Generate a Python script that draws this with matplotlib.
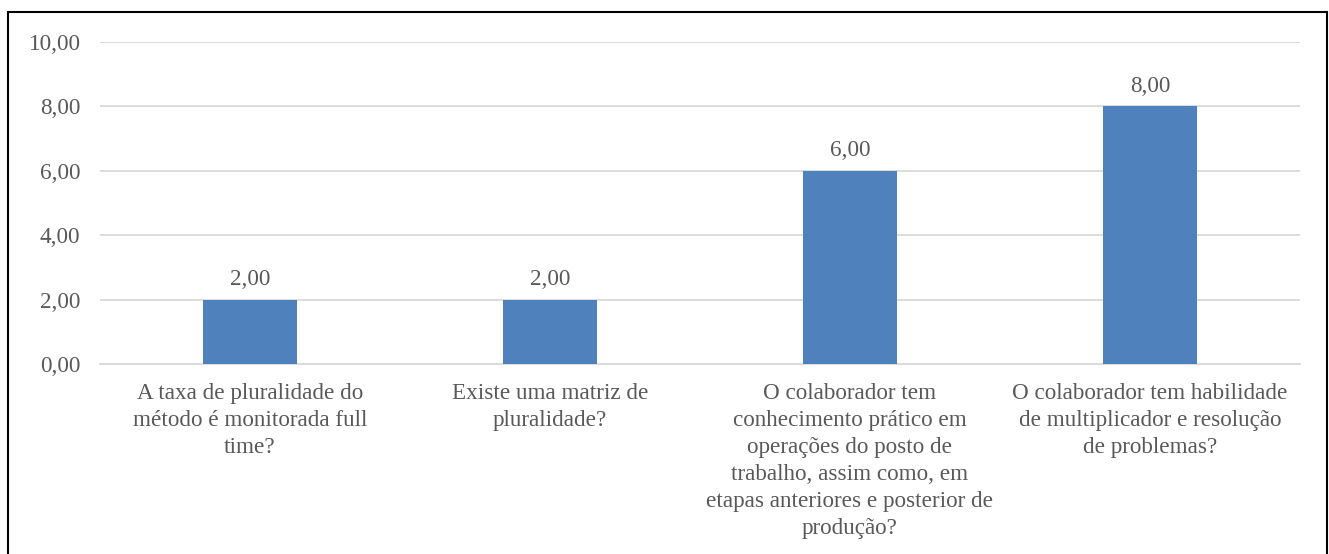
import matplotlib.pyplot as plt
from matplotlib.patches import Rectangle

categories = [
    "A taxa de pluralidade do\nmétodo é monitorada full\ntime?",
    "Existe uma matriz de\npluralidade?",
    "O colaborador tem\nconhecimento prático em\noperações do posto de\ntrabalho, assim como, em\netapas anteriores e posterior de\nprodução?",
    "O colaborador tem habilidade\nde multiplicador e resolução\nde problemas?",
]
values = [2.0, 2.0, 6.0, 8.0]
yticks = [0, 2, 4, 6, 8, 10]

plt.rcParams['font.family'] = ['Liberation Serif', 'DejaVu Serif']
text_color = '#595959'
fs = 16.7

fig = plt.figure(figsize=(13.29, 5.54), dpi=100)
ax = fig.add_axes([0.0752, 0.343, 0.903, 0.5812])

x = range(len(values))
ax.bar(x, values, width=0.313, color='#4F81BD', zorder=3)
for i, v in zip(x, values):
    ax.text(i, v + 0.3, f"{v:.2f}".replace('.', ','), ha='center', va='bottom',
            fontsize=fs, color=text_color)

ax.set_xlim(-0.5, len(values) - 0.5)
ax.set_ylim(0, 10)
ax.set_yticks(yticks)
ax.set_yticklabels([f"{t:.2f}".replace('.', ',') for t in yticks])
ax.set_xticks(list(x))
ax.set_xticklabels(categories, linespacing=1.37)
ax.tick_params(axis='y', length=0, pad=14, labelsize=fs, labelcolor=text_color)
ax.tick_params(axis='x', length=0, pad=14, labelsize=fs, labelcolor=text_color)

ax.grid(axis='y', color='#D9D9D9', linewidth=1.3, zorder=0)
for side in ['top', 'right', 'left']:
    ax.spines[side].set_visible(False)
ax.spines['bottom'].set_color('#D9D9D9')
ax.spines['bottom'].set_linewidth(1.3)

# outer frame, open at the bottom edge
fig.patches.append(Rectangle((8 / 1329, -0.05), 1319 / 1329, 1.05 - 12 / 554,
                             transform=fig.transFigure, fill=False,
                             edgecolor='black', linewidth=1.5))

fig.savefig('out.png', dpi=100)
